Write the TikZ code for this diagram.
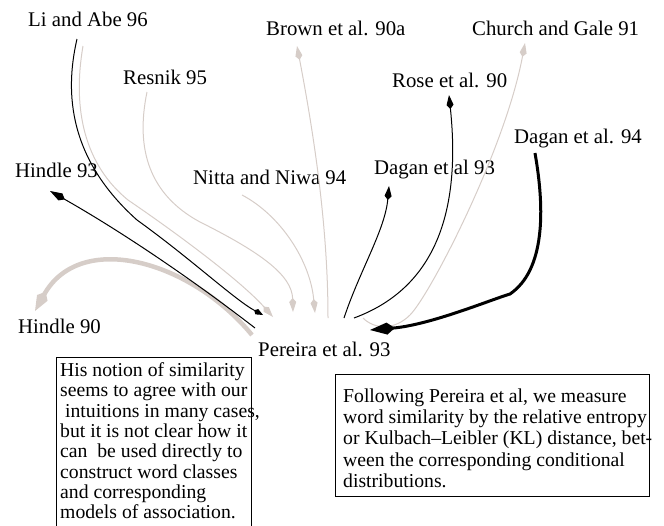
\documentclass[tikz,border=0pt]{standalone}
\usepackage{fontspec}
\setmainfont{Liberation Serif}
\usetikzlibrary{arrows.meta}
\definecolor{edgegrey}{RGB}{214,205,200}
\begin{document}
\begin{tikzpicture}[x=1pt,y=-1pt,
  lbl/.style={font=\fontsize{20.8}{24}\selectfont, inner sep=0pt, anchor=base west},
  note/.style={inner sep=0pt, anchor=north west, align=left},
  notebox/.style={draw=black, line width=0.8pt, anchor=north west, inner sep=0pt},
  thinblack/.style={draw=black, line width=1pt, -{Kite[length=14pt,width=7pt,inset=4pt]}},
  thingrey/.style={draw=edgegrey, line width=1pt, -{Kite[length=14pt,width=7pt,inset=4pt]}},
  thickgrey/.style={draw=edgegrey, line width=4.5pt, -{Kite[length=22pt,width=12pt,inset=7pt]}},
  thickblack/.style={draw=black, line width=3pt, -{Kite[length=25pt,width=12pt,inset=8pt]}}]
\useasboundingbox (0,0) rectangle (664,525);
\clip (0,0) rectangle (664,525);

% labels
\node[lbl] (lia) at (28,26) {Li and Abe 96};
\node[lbl] (brown) at (266,35) {Brown et al. 90a};
\node[lbl] (church) at (472,35) {Church and Gale 91};
\node[lbl] (resnik) at (123,84) {Resnik 95};
\node[lbl] (rose) at (392,87) {Rose et al. 90};
\node[lbl] (dagan94) at (514,143) {Dagan et al. 94};
\node[lbl] (hindle93) at (15,177) {Hindle 93};
\node[lbl] (nitta) at (193,184) {Nitta and Niwa 94};
\node[lbl] (dagan93) at (374,174) {Dagan et al 93};
\node[lbl] (hindle90) at (18,333) {Hindle 90};
\node[lbl] (pereira) at (258,356) {Pereira et al. 93};

% connector end points
\coordinate (liaA) at (77,39);
\coordinate (liaB) at (83,46);
\coordinate (resA) at (147,92);
\coordinate (nitA) at (242,195);
\coordinate (brownA) at (297,46);
\coordinate (hinA) at (50,191);
\coordinate (hinB) at (35,311);
\coordinate (dagA) at (389,186);
\coordinate (roseA) at (449,95);
\coordinate (churchA) at (525,43);
\coordinate (dagB) at (535,153);
\coordinate (pLiBlack) at (263,315);
\coordinate (pLiGrey) at (273,317);
\coordinate (pRes) at (293,312);
\coordinate (pNit) at (315,313);
\coordinate (pBrown) at (328,318);
\coordinate (pDag93) at (344,318);
\coordinate (pRose) at (354,318);
\coordinate (pChurch) at (363,318);
\coordinate (pDag94) at (370,330);
\coordinate (pHin93) at (255,328);
\coordinate (pHin90) at (252,335);

% grey connectors
\draw[thickgrey] (pHin90) .. controls (190,260) and (80,230) .. (hinB);
\draw[thingrey] (liaB) .. controls (72,110) and (85,165) .. (128,200) .. controls (175,232) and (240,280) .. (pLiGrey);
\draw[thingrey] (resA) .. controls (135,150) and (150,195) .. (200,222) .. controls (260,252) and (292,275) .. (pRes);
\draw[thingrey] (nitA) .. controls (280,215) and (310,260) .. (pNit);
\draw[thingrey] (pBrown) .. controls (328,230) and (315,140) .. (brownA);
\draw[thingrey] (pChurch) .. controls (375,330) and (395,330) .. (410,315) .. controls (430,295) and (505,150) .. (churchA);

% black connectors
\draw[thinblack, -{Kite[length=10pt,width=6pt,inset=3pt]}] (liaA) .. controls (64,95) and (70,160) .. (137,220) .. controls (190,258) and (235,300) .. (pLiBlack);
\draw[thinblack, -{Kite[length=17pt,width=8pt,inset=5pt]}] (pHin93) .. controls (180,270) and (110,225) .. (hinA);
\draw[thinblack] (pDag93) .. controls (360,270) and (385,230) .. (dagA);
\draw[thinblack] (pRose) .. controls (430,290) and (462,220) .. (roseA);
\draw[thickblack] (dagB) .. controls (545,210) and (545,270) .. (510,294) .. controls (490,300) and (430,325) .. (pDag94);

% notes
\node[notebox, minimum width=195pt, minimum height=190pt] (box1) at (56,357) {};
\node[note, font=\fontsize{19.7}{20.3}\selectfont] (txt1) at (60,362.5) {His notion of similarity\\ seems to agree with our\\ \hspace*{0.25em}intuitions in many cases,\\ but it is not clear how it\\ can\hspace*{0.5em}be used directly to\\ construct word classes\\ and corresponding\\ models of association.};

\node[notebox, minimum width=314pt, minimum height=122pt] (box2) at (335,374) {};
\node[note, font=\fontsize{19.7}{21.25}\selectfont] (txt2) at (343,388.5) {Following Pereira et al, we measure\\ word similarity by the relative entropy\\ or Kulbach--Leibler (KL) distance, bet-\\ ween the corresponding conditional\\ distributions.};
\end{tikzpicture}
\end{document}
